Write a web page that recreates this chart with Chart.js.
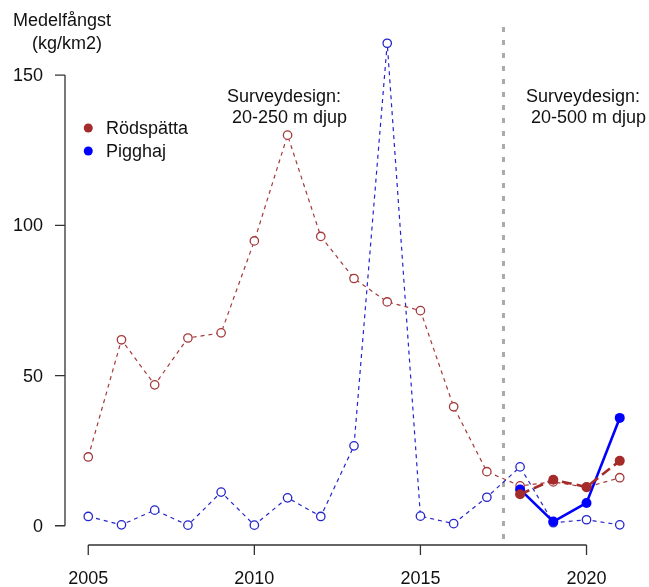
<!DOCTYPE html>
<html>
<head>
<meta charset="utf-8">
<script src="https://cdn.jsdelivr.net/npm/chart.js@4/dist/chart.umd.min.js"></script>
<style>
  html, body { margin: 0; padding: 0; background: #fff; }
  canvas { display: block; }
</style>
</head>
<body>
<canvas id="chart" width="649" height="587"></canvas>
<script>
// År och medelfångst (kg/km2)
const years = [2005, 2006, 2007, 2008, 2009, 2010, 2011, 2012, 2013, 2014, 2015, 2016, 2017, 2018, 2019, 2020, 2021];
const rodspattaOld = [22.9, 61.9, 46.9, 62.5, 64.2, 94.8, 130.0, 96.3, 82.3, 74.5, 71.6, 39.6, 18.0, 13.3, 14.6, 12.8, 16.0];
const pigghajOld = [3.1, 0.3, 5.2, 0.2, 11.2, 0.2, 9.3, 3.1, 26.6, 160.6, 3.2, 0.7, 9.5, 19.6, 1.0, 2.0, 0.3];

const newYears = [2018, 2019, 2020, 2021];
const rodspattaNew = [10.5, 15.3, 12.9, 21.6];
const pigghajNew = [12.1, 1.4, 7.6, 35.9];

const yTicks = [0, 50, 100, 150];
const xTicks = [2005, 2010, 2015, 2020];

const RED = '#a52a2a';
const BLUE = '#0000ff';
const FONT = '18px "Liberation Sans", Arial, sans-serif';

function pts(xs, ys) {
    return xs.map((x, i) => ({ x: x, y: ys[i] }));
}

// R-liknande axlar, lodlinje, text och legend
const decorations = {
    id: 'decorations',
    beforeDatasetsDraw(chart) {
        const ctx = chart.ctx;
        const x = chart.scales.x;
        const area = chart.chartArea;
        const px = x.getPixelForValue(2017.5);
        ctx.save();
        ctx.strokeStyle = '#aaaaaa';
        ctx.lineWidth = 3;
        ctx.setLineDash([5, 8]);
        ctx.beginPath();
        ctx.moveTo(px, area.top + 3);
        ctx.lineTo(px, area.bottom);
        ctx.stroke();
        ctx.restore();
    },
    afterDraw(chart) {
        const ctx = chart.ctx;
        const x = chart.scales.x;
        const y = chart.scales.y;
        const area = chart.chartArea;
        ctx.save();
        ctx.strokeStyle = '#333';
        ctx.lineWidth = 1.3;
        ctx.fillStyle = '#111';
        ctx.font = FONT;

        // y-axel
        const ax = area.left - 2;
        ctx.beginPath();
        ctx.moveTo(ax, y.getPixelForValue(yTicks[0]));
        ctx.lineTo(ax, y.getPixelForValue(yTicks[yTicks.length - 1]));
        yTicks.forEach(v => {
            const py = y.getPixelForValue(v);
            ctx.moveTo(ax, py);
            ctx.lineTo(ax - 10, py);
        });
        ctx.stroke();
        ctx.textAlign = 'right';
        ctx.textBaseline = 'middle';
        yTicks.forEach(v => {
            ctx.fillText(String(v), 43, y.getPixelForValue(v) + 1);
        });

        // x-axel
        const ay = area.bottom;
        ctx.beginPath();
        ctx.moveTo(x.getPixelForValue(xTicks[0]), ay);
        ctx.lineTo(x.getPixelForValue(xTicks[xTicks.length - 1]), ay);
        xTicks.forEach(v => {
            const p = x.getPixelForValue(v);
            ctx.moveTo(p, ay);
            ctx.lineTo(p, ay + 10);
        });
        ctx.stroke();
        ctx.textAlign = 'center';
        xTicks.forEach(v => {
            ctx.fillText(String(v), x.getPixelForValue(v), 579);
        });

        // axeltitel
        ctx.fillText('Medelfångst', 62, 21);
        ctx.fillText('(kg/km2)', 67, 44);

        // surveydesign-texter
        ctx.textAlign = 'left';
        ctx.fillText('Surveydesign:', 227, 97);
        ctx.fillText(' 20-250 m djup', 227, 118);
        ctx.fillText('Surveydesign:', 526, 97);
        ctx.fillText(' 20-500 m djup', 526, 118);

        // legend
        const lx = x.getPixelForValue(2005);
        [['Rödspätta', RED, 128], ['Pigghaj', BLUE, 151]].forEach(([label, col, ly]) => {
            ctx.fillStyle = col;
            ctx.beginPath();
            ctx.arc(lx, ly, 4.5, 0, Math.PI * 2);
            ctx.fill();
            ctx.fillStyle = '#111';
            ctx.fillText(label, 106, ly + 1);
        });
        ctx.restore();
    }
};

new Chart(document.getElementById('chart'), {
    type: 'line',
    data: {
        datasets: [
            {
                label: 'Rödspätta',
                data: pts(newYears, rodspattaNew),
                borderColor: RED,
                backgroundColor: RED,
                borderWidth: 2.6,
                borderDash: [10, 5],
                pointRadius: 5,
                pointBorderWidth: 0,
                order: 0
            },
            {
                label: 'Pigghaj',
                data: pts(newYears, pigghajNew),
                borderColor: BLUE,
                backgroundColor: BLUE,
                borderWidth: 2.6,
                pointRadius: 5,
                pointBorderWidth: 0,
                order: 0
            },
            {
                label: 'Rödspätta 2005-2021',
                data: pts(years, rodspattaOld),
                borderColor: '#a5393a',
                borderWidth: 1.2,
                borderDash: [4, 4],
                pointRadius: 4.2,
                pointBorderWidth: 1.3,
                pointBackgroundColor: '#ffffff',
                order: 1
            },
            {
                label: 'Pigghaj 2005-2021',
                data: pts(years, pigghajOld),
                borderColor: '#2424cc',
                borderWidth: 1.2,
                borderDash: [4, 4],
                pointRadius: 4.2,
                pointBorderWidth: 1.3,
                pointBackgroundColor: '#ffffff',
                order: 1
            }
        ]
    },
    options: {
        responsive: false,
        animation: false,
        devicePixelRatio: 1,
        layout: { padding: { left: 67, right: 8, top: 24, bottom: 42 } },
        scales: {
            x: { type: 'linear', min: 2004.36, max: 2021.64, display: false },
            y: { min: -6.4, max: 167, display: false }
        },
        plugins: {
            legend: { display: false },
            tooltip: { enabled: false }
        }
    },
    plugins: [decorations]
});
</script>
</body>
</html>
